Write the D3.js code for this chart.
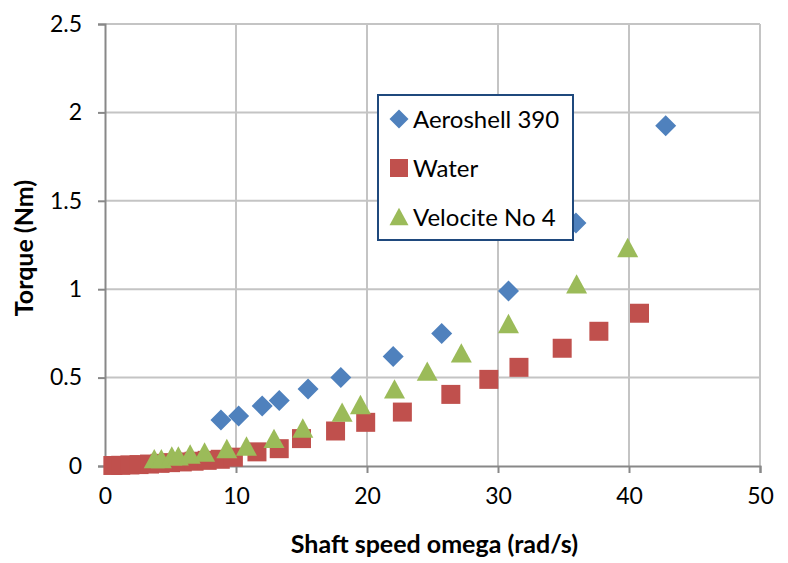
<!DOCTYPE html>
<html><head><meta charset="utf-8">
<script src="https://cdn.jsdelivr.net/npm/d3@7"></script>
<style>body{margin:0;background:#fff}svg{display:block}</style>
</head><body>
<svg id="c" width="788" height="563"></svg>
<script>
const seriesNames = ["Aeroshell 390", "Water", "Velocite No 4"];
const aeroX = [8.85, 10.2, 12.0, 13.3, 15.5, 18.0, 22.0, 25.7, 30.8, 35.95, 42.8];
const aeroY = [0.26, 0.283, 0.34, 0.37, 0.435, 0.50, 0.62, 0.75, 0.99, 1.374, 1.925];
const waterX = [0.6, 1.2, 1.9, 2.6, 3.4, 4.2, 5.0, 5.9, 6.8, 7.8, 8.8, 9.8, 11.6, 13.3, 15.0, 17.6, 19.9, 22.7, 26.4, 29.3, 31.6, 34.9, 37.7, 40.8];
const waterY = [0.003, 0.004, 0.006, 0.008, 0.011, 0.015, 0.019, 0.023, 0.027, 0.032, 0.038, 0.05, 0.08, 0.098, 0.155, 0.198, 0.247, 0.305, 0.405, 0.49, 0.558, 0.666, 0.762, 0.864];
const veloX = [3.76, 4.3, 5.1, 5.6, 6.5, 7.6, 9.3, 10.8, 12.9, 15.1, 18.1, 19.5, 22.1, 24.6, 27.2, 30.8, 36.0, 39.9];
const veloY = [0.042, 0.042, 0.057, 0.057, 0.068, 0.079, 0.099, 0.113, 0.156, 0.215, 0.305, 0.348, 0.436, 0.537, 0.64, 0.806, 1.03, 1.236];
const xTicks = [0, 10, 20, 30, 40, 50];
const yTicks = [0, 0.5, 1, 1.5, 2, 2.5];
const xTitle = "Shaft speed omega (rad/s)";
const yTitle = "Torque (Nm)";

const colors = ["#4F81BD", "#C0504D", "#9BBB59"];
const FONT = "Lato, 'Open Sans', sans-serif";

const svg = d3.select("#c");
const x = d3.scaleLinear().domain([0, 50]).range([105, 760]);
const y = d3.scaleLinear().domain([0, 2.5]).range([466, 24]);

// gridlines
const g = svg.append("g");
g.selectAll("line.gx").data(xTicks.slice(1)).join("line")
  .attr("x1", d => x(d)).attr("x2", d => x(d)).attr("y1", y(0)).attr("y2", y(2.5))
  .attr("stroke", "#C4C4C4").attr("stroke-width", 2);
g.selectAll("line.gy").data(yTicks.slice(1)).join("line")
  .attr("x1", x(0)).attr("x2", x(50)).attr("y1", d => y(d)).attr("y2", d => y(d))
  .attr("stroke", "#C4C4C4").attr("stroke-width", 2);

// axes
const xAxis = svg.append("g").attr("transform", `translate(0,${y(0)})`)
  .call(d3.axisBottom(x).tickValues(xTicks).tickSize(7).tickPadding(15).tickFormat(d3.format("d")));
const yAxis = svg.append("g").attr("transform", `translate(${x(0)},0)`)
  .call(d3.axisLeft(y).tickValues(yTicks).tickSize(7).tickPadding(16).tickFormat(d => String(d)));
[xAxis, yAxis].forEach(a => {
  a.select(".domain").attr("stroke", "#888").attr("stroke-width", 2);
  a.selectAll(".tick line").attr("stroke", "#888").attr("stroke-width", 2);
  a.selectAll(".tick text").attr("fill", "#000").style("font-family", FONT).style("font-size", "23px");
});

// marker shapes
function diamond(s) { const h = s / 2; return `M0,${-h}L${h},0L0,${h}L${-h},0Z`; }
function square(s) { const h = s / 2; return `M${-h},${-h}H${h}V${h}H${-h}Z`; }
function triangle(s) { const w = s / 2, h = s * 0.46; return `M0,${-h}L${w},${h}L${-w},${h}Z`; }
const shapes = [diamond, square, triangle];
const sizes = [21, 19, 21];

const data = [
  aeroX.map((v, i) => [v, aeroY[i]]),
  waterX.map((v, i) => [v, waterY[i]]),
  veloX.map((v, i) => [v, veloY[i]])
];
data.forEach((pts, si) => {
  svg.append("g").selectAll("path").data(pts).join("path")
    .attr("transform", d => `translate(${x(d[0])},${y(d[1])})`)
    .attr("d", shapes[si](sizes[si]))
    .attr("fill", colors[si]);
});

// titles
svg.append("text").attr("x", (x(0) + x(50)) / 2 + 2).attr("y", 553)
  .attr("text-anchor", "middle").style("font-family", FONT).style("font-size", "25px")
  .style("font-weight", "bold").attr("fill", "#000").text(xTitle);
svg.append("text").attr("transform", `translate(33,${(y(0) + y(2.5)) / 2 + 3}) rotate(-90)`)
  .attr("text-anchor", "middle").style("font-family", FONT).style("font-size", "25px")
  .style("font-weight", "bold").attr("fill", "#000").text(yTitle);

// legend
const lg = svg.append("g");
lg.append("rect").attr("x", 378).attr("y", 95).attr("width", 195).attr("height", 145)
  .attr("fill", "#fff").attr("stroke", "#1F497D").attr("stroke-width", 2);
const legY = [119, 168, 216.5];
const legSizes = [19, 18, 19];
seriesNames.forEach((n, i) => {
  lg.append("path").attr("transform", `translate(399,${legY[i]})`)
    .attr("d", shapes[i](legSizes[i])).attr("fill", colors[i]);
  lg.append("text").attr("x", 413).attr("y", legY[i] + 9)
    .style("font-family", FONT).style("font-size", "24px").attr("fill", "#000").text(n);
});
</script>
</body></html>
